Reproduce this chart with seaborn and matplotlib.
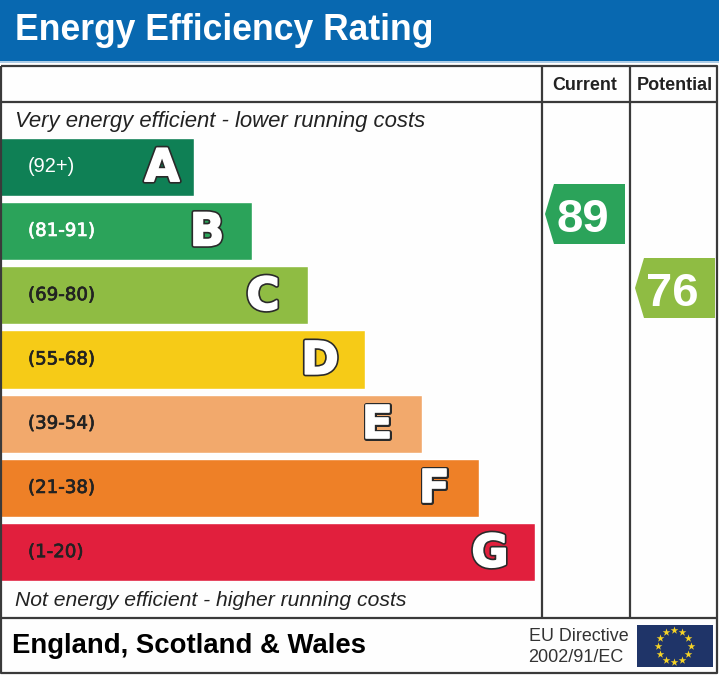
import numpy as np
import pandas as pd
import seaborn as sns
import matplotlib.pyplot as plt
import matplotlib.patheffects as pe
from matplotlib.patches import Polygon, Rectangle

bands = ["A", "B", "C", "D", "E", "F", "G"]
ranges = ["(92+)", "(81-91)", "(69-80)", "(55-68)", "(39-54)", "(21-38)", "(1-20)"]
bar_lengths = [194, 252, 308, 365, 422, 479, 535]
band_colors = ["#0F8055", "#2BA35A", "#8FBC43", "#F6CB17", "#F2A96C", "#EE8027", "#E11F3D"]

current_score = 89
potential_score = 76
current_color = "#2BA35A"
potential_color = "#8FBC43"

sns.set_theme(style="white")
plt.rcParams['font.family'] = ['Liberation Sans', 'DejaVu Sans']

W, H = 719, 675
fig = plt.figure(figsize=(W / 100, H / 100), dpi=100, facecolor="#fefefe")

# bars
bar_top, bar_bottom = 134.6, 584.3
ax = fig.add_axes([0, 1 - bar_bottom / H, 1, (bar_bottom - bar_top) / H], zorder=1)
ax.patch.set_alpha(0)
df = pd.DataFrame({"band": bands, "length": bar_lengths})
sns.barplot(data=df, x="length", y="band", hue="band", palette=band_colors, legend=False,
            width=0.905, saturation=1, ax=ax)
ax.set_xlim(0, W)
ax.set_ylim(6.5, -0.5)
ax.axis("off")

# dark outline, then a white stroke to fatten the letter itself
letter_fx = [pe.Stroke(linewidth=3.6, foreground="#2a2a2a"),
             pe.Stroke(linewidth=1.2, foreground="white"),
             pe.Normal()]
for i, (band, rng, length) in enumerate(zip(bands, ranges, bar_lengths)):
    rng_color = "white" if i < 2 else "#222222"
    if i == 0:
        ax.text(28, i, rng, color=rng_color, fontsize=14.4, ha="left", va="center")
    else:
        # thin stroke to get the heavier look of the original labels
        ax.text(28, i, rng, color=rng_color, fontsize=13.1, ha="left", va="center", family="DejaVu Sans",
                path_effects=[pe.withStroke(linewidth=0.5, foreground=rng_color)])
    # A sits closer to the end of its bar than the others
    offset = 32 if i == 0 else 45
    ax.text(length - offset, i + 0.03, band, color="white", fontsize=32.5, fontweight="bold",
            family="DejaVu Sans", ha="center", va="center", path_effects=letter_fx)

# page axes in pixel coords, y pointing down
page = fig.add_axes([0, 0, 1, 1], zorder=2)
page.set_xlim(0, W)
page.set_ylim(H, 0)
page.axis("off")

# header
page.add_patch(Rectangle((0, 0), W, 61, fc="#0868B0", ec="none"))
page.plot([0, W], [62, 62], color="#9CC3E2", lw=1.2)
page.text(15, 40, "Energy Efficiency Rating", color="white", fontsize=25.6, fontweight="bold",
          va="baseline", ha="left")

# frame
line = dict(color="#3a3a3a", lw=1.6, solid_capstyle="butt")
page.plot([1, 717, 717, 1, 1], [66, 66, 673, 673, 66], **line)
page.plot([1, 717], [101.5, 101.5], **line)
page.plot([1, 717], [617.5, 617.5], **line)
page.plot([542, 542], [66, 617], **line)
page.plot([630, 630], [66, 617], **line)

page.text(585, 90, "Current", color="#222222", fontsize=12.9, fontweight="bold", ha="center", va="baseline")
page.text(674.5, 90, "Potential", color="#222222", fontsize=13, fontweight="bold", ha="center", va="baseline")

page.text(15, 127, "Very energy efficient - lower running costs", color="#222222",
          fontsize=15.95, style="italic", va="baseline")
page.text(15, 606, "Not energy efficient - higher running costs", color="#222222",
          fontsize=15.2, style="italic", va="baseline")


def badge(x0, x1, y0, y1, color, score):
    pts = [(x0, (y0 + y1) / 2), (x0 + 9, y0), (x1, y0), (x1, y1), (x0 + 9, y1)]
    page.add_patch(Polygon(pts, closed=True, fc=color, ec="none", zorder=3))
    page.text((x0 + x1) / 2 - 2.5, y1 - 12, str(score), color="white", fontsize=34,
              fontweight="bold", ha="center", va="baseline", zorder=4)


badge(545, 625, 184, 244, current_color, current_score)
badge(635, 715, 258, 318, potential_color, potential_score)

# footer
page.text(12, 653, "England, Scotland & Wales", color="black", fontsize=19.8, fontweight="bold", va="baseline")
page.text(529, 641, "EU Directive", color="#333333", fontsize=12.9, va="baseline")
page.text(528.5, 662, "2002/91/EC", color="#333333", fontsize=13, va="baseline")

# EU flag
page.add_patch(Rectangle((637, 625), 76, 42, fc="#1F3468", ec="none"))
ang = np.deg2rad(np.arange(12) * 30)
page.scatter(674 + 16.5 * np.sin(ang), 646 - 16 * np.cos(ang), marker="*", s=34, color="#F5D327", lw=0, zorder=3)

fig.savefig("out.png", dpi=100, facecolor=fig.get_facecolor())
